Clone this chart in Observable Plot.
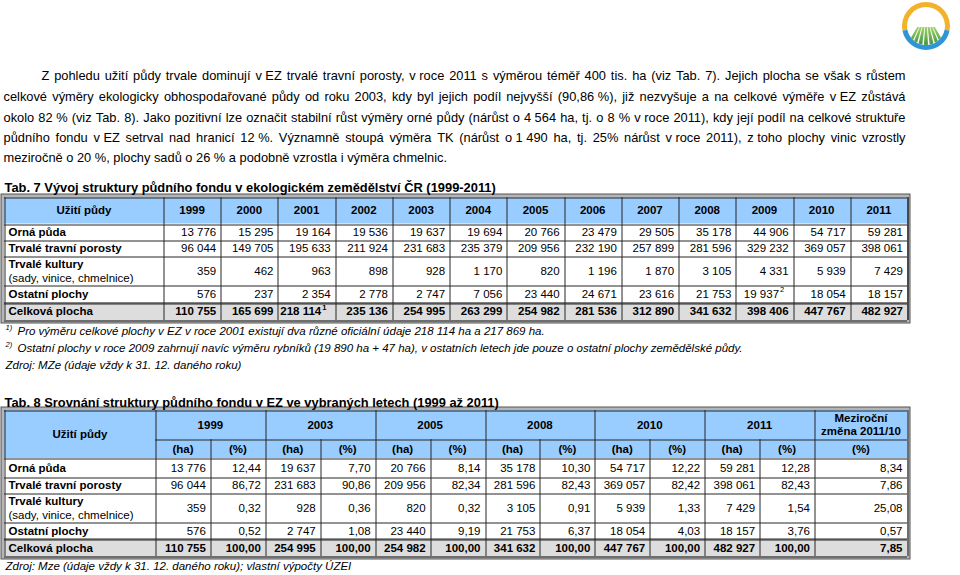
<!DOCTYPE html>
<html><head><meta charset="utf-8">
<script src="https://cdn.jsdelivr.net/npm/d3@7"></script>
<script src="https://cdn.jsdelivr.net/npm/@observablehq/plot@0.6"></script>
<style>html,body{margin:0;padding:0;background:#fff;} svg{display:block}</style>
</head><body><div id="chart"></div>
<script>
// ---------------- DATA ----------------
const paragraphLines = [
  "Z pohledu užití půdy trvale dominují v\u00a0EZ trvalé travní porosty, v\u00a0roce 2011 s výměrou téměř 400 tis. ha (viz Tab. 7). Jejich plocha se však s růstem",
  "celkové výměry ekologicky obhospodařované půdy od roku 2003, kdy byl jejich podíl nejvyšší (90,86\u00a0%), již nezvyšuje a na celkové výměře v\u00a0EZ zůstává",
  "okolo 82\u00a0% (viz Tab. 8). Jako pozitivní lze označit stabilní růst výměry orné půdy (nárůst o 4\u00a0564 ha, tj. o 8 % v\u00a0roce 2011), kdy její podíl na celkové struktuře",
  "půdního fondu v\u00a0EZ setrval nad hranicí 12\u00a0%. Významně stoupá výměra TK (nárůst o\u00a01\u00a0490 ha, tj. 25% nárůst v\u00a0roce 2011), z\u00a0toho plochy vinic vzrostly",
  "meziročně o 20 %, plochy sadů o 26 % a podobně vzrostla i výměra chmelnic."
];

const title7 = "Tab. 7 Vývoj struktury půdního fondu v ekologickém zemědělství ČR (1999-2011)";
const title8 = "Tab. 8 Srovnání struktury půdního fondu v EZ ve vybraných letech (1999 až 2011)";
const headerLabel = "Užití půdy";
const categories = ["Orná půda", "Trvalé travní porosty", "Trvalé kultury", "Ostatní plochy", "Celková plocha"];
const categorySub = ["", "", "(sady, vinice, chmelnice)", "", ""];

const years7 = [1999, 2000, 2001, 2002, 2003, 2004, 2005, 2006, 2007, 2008, 2009, 2010, 2011];
const ornaPuda      = [13776, 15295, 19164, 19536, 19637, 19694, 20766, 23479, 29505, 35178, 44906, 54717, 59281];
const trvaleTravni  = [96044, 149705, 195633, 211924, 231683, 235379, 209956, 232190, 257899, 281596, 329232, 369057, 398061];
const trvaleKultury = [359, 462, 963, 898, 928, 1170, 820, 1196, 1870, 3105, 4331, 5939, 7429];
const ostatniPlochy = [576, 237, 2354, 2778, 2747, 7056, 23440, 24671, 23616, 21753, 19937, 18054, 18157];
const celkovaPlocha = [110755, 165699, 218114, 235136, 254995, 263299, 254982, 281536, 312890, 341632, 398406, 447767, 482927];
const footnoteMarks7 = [{row: 4, year: 2001, mark: "1"}, {row: 3, year: 2009, mark: "2"}];

const footnotes7 = [
  {mark: "1)", text: "Pro výměru celkové plochy v EZ v roce 2001 existují dva různé oficiální údaje 218 114 ha a 217 869 ha."},
  {mark: "2)", text: "Ostatní plochy v roce 2009 zahrnují navíc výměru rybníků (19 890 ha + 47 ha), v ostatních letech jde pouze o ostatní plochy zemědělské půdy."}
];
const source7 = "Zdroj: MZe (údaje vždy k 31. 12. daného roku)";

const years8 = [1999, 2003, 2005, 2008, 2010, 2011];
const subHeaders8 = ["(ha)", "(%)"];
const changeHeader = ["Meziroční", "změna 2011/10"];
const pct1999 = [12.44, 86.72, 0.32, 0.52, 100.00];
const pct2003 = [7.70, 90.86, 0.36, 1.08, 100.00];
const pct2005 = [8.14, 82.34, 0.32, 9.19, 100.00];
const pct2008 = [10.30, 82.43, 0.91, 6.37, 100.00];
const pct2010 = [12.22, 82.42, 1.33, 4.03, 100.00];
const pct2011 = [12.28, 82.43, 1.54, 3.76, 100.00];
const change2011 = [8.34, 7.86, 25.08, 0.57, 7.85];
const source8 = "Zdroj: Mze (údaje vždy k 31. 12. daného roku); vlastní výpočty ÚZEI";

// ---------------- LAYOUT ----------------
const W = 960, H = 575;
const FONT = "'Liberation Sans', Arial, sans-serif";
const BLUE = "#99ccff", GREY = "#dddddd";
const series7 = [ornaPuda, trvaleTravni, trvaleKultury, ostatniPlochy, celkovaPlocha];
const pct8 = [pct1999, pct2003, pct2005, pct2008, pct2010, pct2011];

const loc = d3.formatLocale({decimal: ",", thousands: " ", grouping: [3], currency: ["", ""]});
const fmtN = loc.format(",d");
const fmtP = loc.format(".2f");

const canvas = document.createElement("canvas");
const ctx = canvas.getContext("2d");
function measure(txt, size, weight = "normal", style = "normal") {
  ctx.font = `${style} ${weight} ${size}px 'Liberation Sans'`;
  return ctx.measureText(txt).width;
}

const rects = [], vr = [], hr = [], texts = [];
function T(x, y, text, o = {}) {
  texts.push({x, y, text, anchor: o.anchor || "start", weight: o.weight || "normal",
              style: o.style || "normal", size: o.size || 11.5});
}
function fitSize(txt, width, weight = "normal") { return 12 * width / measure(txt, 12, weight); }

// paragraph (justified, word-by-word)
const pLeft = 3, pRight = 905, pIndent = 41;
const pSize = fitSize(paragraphLines[paragraphLines.length - 1], 444);
const pY = [75, 96, 117, 137.5, 157];
paragraphLines.forEach((line, i) => {
  const words = line.split(" ");
  const ws = words.map(w => measure(w, pSize));
  const x0 = i === 0 ? pIndent : pLeft;
  const justify = i < paragraphLines.length - 1;
  const gap = justify ? (pRight - x0 - d3.sum(ws)) / (words.length - 1) : measure(" ", pSize);
  let x = x0;
  words.forEach((w, j) => { T(x, pY[i], w, {size: pSize}); x += ws[j] + gap; });
});

// ---- Table 7 ----
const L = 4, R = 907;
const t7 = {first: 163, rows: [197, 223.5, 240, 256, 285, 302.5, 320]};
T(L, 187, title7, {weight: "bold", size: fitSize(title7, 492, "bold")});
{
  const colW = (R - t7.first) / years7.length;
  const cx = k => t7.first + k * colW;
  const rows = t7.rows, top = rows[0], bot = rows[rows.length - 1];
  rects.push({x1: L - 3, x2: R + 3, y1: top - 3, y2: bot + 3, fill: "#b5b5b5", stroke: "#555"});
  rects.push({x1: L, x2: R, y1: top, y2: rows[1], fill: BLUE});
  rects.push({x1: L, x2: R, y1: rows[1], y2: rows[5], fill: "#fff"});
  rects.push({x1: L, x2: R, y1: rows[5], y2: bot, fill: GREY});
  rows.forEach(y => hr.push({y, x1: L, x2: R}));
  vr.push({x: L, y1: top, y2: bot}); vr.push({x: R, y1: top, y2: bot});
  for (let k = 0; k <= years7.length; k++) vr.push({x: cx(k), y1: top, y2: bot});
  hr.push({y: rows[5] - 1, x1: L, x2: R});
  T((L + t7.first) / 2, (rows[0] + rows[1]) / 2, headerLabel, {anchor: "middle", weight: "bold"});
  years7.forEach((yr, k) => T(cx(k) + colW / 2, (rows[0] + rows[1]) / 2, String(yr), {anchor: "middle", weight: "bold"}));
  categories.forEach((c, r) => {
    const y1 = rows[r + 1], y2 = rows[r + 2], ym = (y1 + y2) / 2;
    const bold = r === 4 ? "bold" : "normal";
    if (categorySub[r]) {
      T(L + 4, ym - 7, c, {weight: "bold"});
      T(L + 4, ym + 7, categorySub[r]);
    } else T(L + 4, ym, c, {weight: "bold"});
    series7[r].forEach((v, k) => {
      const fm = footnoteMarks7.find(f => f.row === r && f.year === years7[k]);
      if (fm) {
        T(cx(k + 1) - 14, ym, fmtN(v), {anchor: "end", weight: bold});
        T(cx(k + 1) - 13, ym - 4.5, fm.mark, {size: 7.5, weight: bold});
      } else {
        T(cx(k + 1) - 4.5, ym, fmtN(v), {anchor: "end", weight: bold});
      }
    });
  });
}
footnotes7.forEach((f, i) => {
  const y = 331 + i * 17;
  T(5, y - 4, f.mark, {size: 7.5, style: "italic"});
  T(17, y, f.text, {style: "italic"});
});
T(5, 365, source7, {style: "italic"});

// ---- Table 8 ----
const t8 = {first: 155, change: 814, rows: [410, 439, 458, 477, 493, 522, 539, 556]};
T(L, 402, title8, {weight: "bold", size: fitSize(title8, 495, "bold")});
{
  const rows = t8.rows, top = rows[0], bot = rows[rows.length - 1];
  const nCols = years8.length * 2;
  const colW = (t8.change - t8.first) / nCols;
  const cx = k => t8.first + k * colW;
  rects.push({x1: L - 3, x2: R + 3, y1: top - 3, y2: bot + 3, fill: "#b5b5b5", stroke: "#555"});
  rects.push({x1: L, x2: R, y1: top, y2: rows[2], fill: BLUE});
  rects.push({x1: L, x2: R, y1: rows[2], y2: rows[6], fill: "#fff"});
  rects.push({x1: L, x2: R, y1: rows[6], y2: bot, fill: GREY});
  rows.forEach((y, i) => { if (i !== 1) hr.push({y, x1: L, x2: R}); });
  hr.push({y: rows[1], x1: t8.first, x2: R});
  hr.push({y: rows[6] - 1, x1: L, x2: R});
  vr.push({x: L, y1: top, y2: bot}); vr.push({x: R, y1: top, y2: bot});
  for (let k = 0; k <= nCols; k++) vr.push({x: cx(k), y1: k % 2 === 0 ? top : rows[1], y2: bot});
  T((L + t8.first) / 2, (rows[0] + rows[2]) / 2, headerLabel, {anchor: "middle", weight: "bold"});
  years8.forEach((yr, i) => {
    T(cx(2 * i + 1), (rows[0] + rows[1]) / 2, String(yr), {anchor: "middle", weight: "bold"});
    subHeaders8.forEach((s, j) => T(cx(2 * i + j) + colW / 2, (rows[1] + rows[2]) / 2, s, {anchor: "middle", weight: "bold"}));
  });
  const chX = (t8.change + R) / 2;
  T(chX, (rows[0] + rows[1]) / 2 - 6.5, changeHeader[0], {anchor: "middle", weight: "bold"});
  T(chX, (rows[0] + rows[1]) / 2 + 6.5, changeHeader[1], {anchor: "middle", weight: "bold"});
  T(chX, (rows[1] + rows[2]) / 2, subHeaders8[1], {anchor: "middle", weight: "bold"});
  categories.forEach((c, r) => {
    const y1 = rows[r + 2], y2 = rows[r + 3], ym = (y1 + y2) / 2;
    const bold = r === 4 ? "bold" : "normal";
    if (categorySub[r]) {
      T(L + 4, ym - 7, c, {weight: "bold"});
      T(L + 4, ym + 7, categorySub[r]);
    } else T(L + 4, ym, c, {weight: "bold"});
    years8.forEach((yr, i) => {
      const k7 = years7.indexOf(yr);
      T(cx(2 * i + 1) - 4.5, ym, fmtN(series7[r][k7]), {anchor: "end", weight: bold});
      T(cx(2 * i + 2) - 4.5, ym, fmtP(pct8[i][r]), {anchor: "end", weight: bold});
    });
    T(R - 5, ym, fmtP(change2011[r]), {anchor: "end", weight: bold});
  });
}
T(5, 566, source8, {style: "italic"});

// ---------------- PLOT ----------------
const textMarks = d3.groups(texts, d => `${d.anchor}|${d.weight}|${d.style}`).map(([key, arr]) => {
  const [anchor, weight, style] = key.split("|");
  return Plot.text(arr, {x: "x", y: "y", text: "text", fontSize: "size", textAnchor: anchor,
    fontWeight: weight, fontStyle: style, fontFamily: FONT, fill: "#000"});
});

const px = v => Math.round(v) + 0.5;
const svg = Plot.plot({
  width: W, height: H, margin: 0,
  style: {fontFamily: FONT, background: "#fff"},
  x: {domain: [0, W], range: [0, W], axis: null},
  y: {domain: [0, H], range: [0, H], axis: null},
  marks: [
    Plot.rect(rects, {x1: "x1", x2: "x2", y1: "y1", y2: "y2", fill: "fill", stroke: d => d.stroke || "none"}),
    Plot.ruleY(hr, {y: d => px(d.y), x1: "x1", x2: "x2", stroke: "#262626", strokeWidth: 1}),
    Plot.ruleX(vr, {x: d => px(d.x), y1: "y1", y2: "y2", stroke: "#262626", strokeWidth: 1}),
    ...textMarks
  ]
});

// logo (decorative)
{
  const g = d3.select(svg).append("g").attr("transform", "translate(926,26)");
  const defs = g.append("defs");
  defs.append("clipPath").attr("id", "lc").append("circle").attr("r", 19);
  const grad = defs.append("linearGradient").attr("id", "lg").attr("x1", 0).attr("y1", 0).attr("x2", 0).attr("y2", 1);
  grad.append("stop").attr("offset", "0%").attr("stop-color", "#a5d36b");
  grad.append("stop").attr("offset", "100%").attr("stop-color", "#2f8a3a");
  const arc = d3.arc().innerRadius(19).outerRadius(24);
  g.append("path").attr("d", arc({startAngle: -Math.PI / 2 - 0.2, endAngle: Math.PI / 2 + 0.2})).attr("fill", "#f3b22b");
  g.append("path").attr("d", arc({startAngle: Math.PI / 2 + 0.2, endAngle: 3 * Math.PI / 2 - 0.2})).attr("fill", "#2f96d6");
  const field = g.append("g").attr("clip-path", "url(#lc)");
  for (let i = -3; i <= 3; i++) {
    const bx = i * 6.3, tx = i * 2.6;
    field.append("path").attr("d", `M${tx - 1},1 L${tx + 1},1 L${bx + 2.2},22 L${bx - 2.2},22 Z`).attr("fill", "url(#lg)");
  }
}

document.getElementById("chart").appendChild(svg);
</script>
</body></html>
